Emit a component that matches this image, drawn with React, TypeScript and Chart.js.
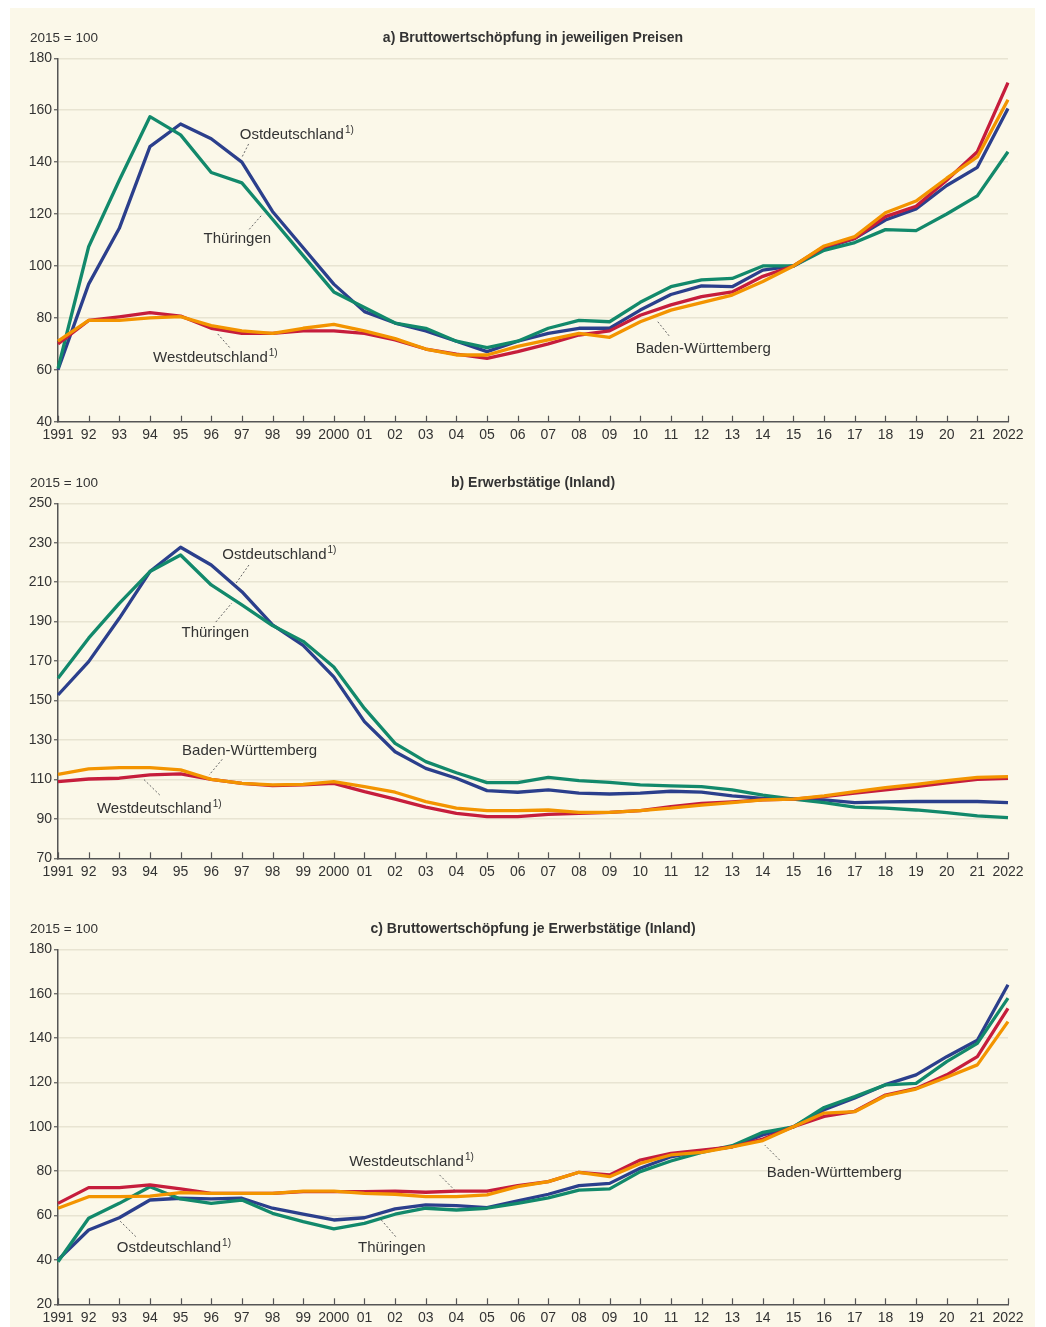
import React, { useEffect, useRef } from 'react';
import { Chart, registerables } from 'chart.js';

Chart.register(...registerables);

// ---------- data ----------
const years = ['1991', '92', '93', '94', '95', '96', '97', '98', '99', '2000', '01', '02', '03', '04', '05', '06', '07', '08', '09', '10', '11', '12', '13', '14', '15', '16', '17', '18', '19', '20', '21', '2022'];

// a) Bruttowertschöpfung in jeweiligen Preisen
const ostA = [60, 93, 114.5, 146, 154.7, 149, 140, 121, 107, 93, 82.4, 78, 75, 71, 67, 71, 74, 76, 76, 83, 89, 92.3, 92, 98.4, 100, 106.8, 110.6, 117.7, 122, 131, 138, 160.7];
const thuA = [60.5, 107.4, 133, 157.5, 150.5, 136, 132, 118, 104, 90, 84, 78, 76, 71, 68.5, 71, 76, 79, 78.5, 86, 92, 94.6, 95.2, 100, 100, 106, 109, 114, 113.6, 120, 127, 144];
const westA = [70, 79, 80.4, 82, 80.7, 76, 74, 74, 75, 75, 74, 71.5, 68, 66, 64.4, 67, 70, 73.4, 75, 81, 85, 88.2, 90, 96, 100, 107.4, 110.6, 119, 123, 133, 144, 170.6];
const bwA = [71, 79, 79, 80, 80.5, 77, 75, 74, 76, 77.5, 75, 72, 68, 65.7, 65.7, 69, 71.5, 74, 72.5, 78.5, 83, 85.9, 88.8, 94, 100, 107.7, 111.3, 120.5, 125, 133.8, 142, 164];

// b) Erwerbstätige (Inland)
const ostB = [152.8, 169.7, 191.7, 215.4, 227.7, 218.7, 205.2, 188.3, 178, 162, 139.3, 124, 115.6, 110.6, 104.3, 103.5, 104.7, 103, 102.6, 103, 104, 103.6, 101.7, 100.4, 100, 99.6, 98.2, 98.6, 98.8, 98.8, 98.8, 98.2];
const thuB = [161.3, 181.6, 199.3, 215.4, 223.8, 208.6, 198.5, 188, 180, 167, 146, 128.3, 119, 113.4, 108.4, 108.4, 111, 109.4, 108.5, 107.2, 106.7, 106.3, 104.7, 102, 100, 98.2, 95.9, 95.4, 94.5, 93.2, 91.5, 90.6];
const westB = [108.9, 110.2, 110.6, 112.3, 112.8, 110, 108, 106.9, 107.2, 108, 103.8, 100, 95.9, 92.8, 91.1, 91.1, 92.3, 92.8, 93.3, 94.2, 96.2, 97.9, 98.6, 99.6, 100, 101.3, 103, 104.7, 106.3, 108.3, 110, 110.6];
const bwB = [112.6, 115.3, 116, 116, 114.8, 110, 108, 107.2, 107.5, 108.9, 106.3, 103.5, 98.7, 95.4, 94.2, 94.2, 94.5, 93.3, 93.3, 94.2, 95.4, 97, 98.2, 99.6, 100, 101.7, 103.8, 105.8, 107.5, 109.4, 111, 111.4];

// c) Bruttowertschöpfung je Erwerbstätige (Inland)
const ostC = [40, 53.5, 59, 67, 67.8, 67.5, 67.8, 63.3, 60.6, 58, 59, 63, 64.8, 64.5, 63.6, 66.6, 69.6, 73.5, 74.5, 81.3, 86.5, 89, 91, 96.3, 100, 107.7, 113, 119, 123.4, 131.6, 139, 164];
const thuC = [39.2, 58.8, 65.5, 73, 67.5, 65.5, 67, 61, 57.3, 54, 56.5, 60.6, 63.3, 62.5, 63.3, 65.5, 68, 71.5, 72, 79.8, 84.6, 88.5, 91.5, 97.5, 100, 108.7, 113.6, 118.9, 119.6, 129.4, 137.6, 158];
const westC = [65.5, 72.6, 72.6, 73.8, 72, 70, 70, 70, 70.8, 70.8, 70.8, 71, 70.5, 71, 71, 73.5, 75.3, 79.5, 78.3, 85, 88, 89.5, 91, 94.5, 100, 104.7, 107, 114.3, 117.3, 123.4, 131.6, 153.4];
const bwC = [63.3, 68.5, 68.5, 68.8, 70.3, 70, 70, 70, 71, 71, 70, 69.6, 68.5, 68.5, 69.3, 73, 75.3, 79.5, 77.5, 83.5, 87.3, 88.5, 91, 93.8, 100, 106.2, 106.8, 114, 117, 122.3, 127.9, 147.4];

const titleA = 'a) Bruttowertschöpfung in jeweiligen Preisen';
const titleB = 'b) Erwerbstätige (Inland)';
const titleC = 'c) Bruttowertschöpfung je Erwerbstätige (Inland)';
const unitText = '2015 = 100';

// annotation labels (positions in data units: x = year index, y = value)
type Note = { text: string; sup?: string; x: number; y: number; line: number[] };
const notesA: Note[] = [
  { text: 'Ostdeutschland', sup: '1)', x: 5.93, y: 150.5, line: [6.22, 147, 5.99, 141.6] },
  { text: 'Thüringen', x: 4.75, y: 110.3, line: [6.24, 114.1, 6.67, 119.9] },
  { text: 'Westdeutschland', sup: '1)', x: 3.1, y: 64.6, line: [5.6, 68.6, 5.19, 74.1] },
  { text: 'Baden-Württemberg', x: 18.85, y: 68, line: [19.94, 73.1, 19.56, 78.7] },
];
const notesB: Note[] = [
  { text: 'Ostdeutschland', sup: '1)', x: 5.36, y: 223.8, line: [6.23, 218.7, 5.77, 208.6] },
  { text: 'Thüringen', x: 4.03, y: 184.1, line: [5.15, 189.8, 5.67, 199.4] },
  { text: 'Baden-Württemberg', x: 4.05, y: 124.4, line: [5.36, 120.2, 4.93, 112.2] },
  { text: 'Westdeutschland', sup: '1)', x: 1.27, y: 95, line: [3.32, 102.1, 2.8, 110] },
];
const notesC: Note[] = [
  { text: 'Ostdeutschland', sup: '1)', x: 1.92, y: 45.3, line: [2.54, 50.5, 1.99, 58] },
  { text: 'Westdeutschland', sup: '1)', x: 9.5, y: 84, line: [12.45, 78.3, 12.94, 71.5] },
  { text: 'Thüringen', x: 9.79, y: 45.3, line: [11.02, 50.5, 10.5, 58.8] },
  { text: 'Baden-Württemberg', x: 23.13, y: 79.3, line: [23.55, 85, 23.06, 91.8] },
];

// ---------- styles ----------
const FONT = '"Liberation Sans", Arial, sans-serif';
const C_OST = '#2b3f8c';
const C_THU = '#12896b';
const C_WEST = '#c61d3c';
const C_BW = '#f39400';
const AXIS = '#555555';
const GRID = '#e8e4d2';
const TEXT = '#333333';
const CREAM = '#fbf8e9';

type Series = { data: number[]; color: string };

function makePlugin(title: string, notes: Note[]) {
  return {
    id: 'decor',
    afterDraw(chart: any) {
      const ctx = chart.ctx as CanvasRenderingContext2D;
      const xs = chart.scales.x;
      const ys = chart.scales.y;
      const area = chart.chartArea;
      ctx.save();
      // x tick marks pointing up
      ctx.strokeStyle = AXIS;
      ctx.lineWidth = 1.2;
      for (let i = 0; i < years.length; i++) {
        const px = Math.round(xs.getPixelForValue(i)) + 0.5;
        ctx.beginPath();
        ctx.moveTo(px, area.bottom);
        ctx.lineTo(px, area.bottom - 6);
        ctx.stroke();
      }
      // header texts
      ctx.fillStyle = TEXT;
      ctx.textBaseline = 'middle';
      ctx.font = `13.5px ${FONT}`;
      ctx.textAlign = 'left';
      ctx.fillText(unitText, 30, area.top - 20);
      ctx.font = `bold 14px ${FONT}`;
      ctx.textAlign = 'center';
      ctx.fillText(title, (area.left + area.right) / 2, area.top - 20);
      // annotations
      ctx.textAlign = 'left';
      for (const n of notes) {
        const tx = xs.getPixelForValue(n.x);
        const ty = ys.getPixelForValue(n.y);
        ctx.font = `15px ${FONT}`;
        ctx.fillStyle = TEXT;
        ctx.fillText(n.text, tx, ty);
        if (n.sup) {
          const w = ctx.measureText(n.text).width;
          ctx.font = `10px ${FONT}`;
          ctx.fillText(n.sup, tx + w + 1, ty - 5);
        }
        ctx.setLineDash([2, 2]);
        ctx.strokeStyle = '#666666';
        ctx.lineWidth = 1;
        ctx.beginPath();
        ctx.moveTo(xs.getPixelForValue(n.line[0]), ys.getPixelForValue(n.line[1]));
        ctx.lineTo(xs.getPixelForValue(n.line[2]), ys.getPixelForValue(n.line[3]));
        ctx.stroke();
        ctx.setLineDash([]);
      }
      ctx.restore();
    },
  };
}

type PanelProps = {
  top: number;
  height: number;
  padTop: number;
  axisH: number;
  title: string;
  min: number;
  max: number;
  step: number;
  series: Series[];
  notes: Note[];
};

function Panel(p: PanelProps) {
  const ref = useRef<HTMLCanvasElement>(null);
  useEffect(() => {
    if (!ref.current) return;
    const chart = new Chart(ref.current, {
      type: 'line',
      data: {
        labels: years,
        datasets: p.series.map((s) => ({
          data: s.data,
          borderColor: s.color,
          backgroundColor: s.color,
          borderWidth: 3.3,
          pointRadius: 0,
          tension: 0,
          fill: false,
          borderJoinStyle: 'round' as const,
        })),
      },
      options: {
        animation: false,
        responsive: false,
        devicePixelRatio: 1,
        events: [],
        layout: { padding: { left: 0, right: 38, top: p.padTop, bottom: 0 } },
        plugins: { legend: { display: false }, tooltip: { enabled: false }, title: { display: false } },
        scales: {
          x: {
            type: 'category',
            offset: false,
            grid: { display: false, drawTicks: false },
            border: { display: true, color: AXIS, width: 1.5 },
            ticks: {
              autoSkip: false,
              maxRotation: 0,
              minRotation: 0,
              color: TEXT,
              font: { family: FONT, size: 14 },
              padding: 5,
            },
            afterFit: (s: any) => {
              s.height = p.axisH;
              s.paddingLeft = 0;
              s.paddingRight = 0;
            },
          },
          y: {
            min: p.min,
            max: p.max,
            ticks: { stepSize: p.step, color: TEXT, font: { family: FONT, size: 14 }, padding: 2 },
            grid: {
              color: (c: any) => (c.tick && c.tick.value === p.min ? 'rgba(0,0,0,0)' : GRID),
              lineWidth: 1.5,
              drawTicks: true,
              tickLength: 4,
              tickColor: AXIS,
              tickWidth: 1.2,
            },
            border: { display: true, color: AXIS, width: 1.5 },
            afterFit: (s: any) => {
              s.width = 58;
              s.paddingTop = 0;
              s.paddingBottom = 0;
            },
          },
        },
      },
      plugins: [makePlugin(p.title, p.notes)],
    } as any);
    return () => chart.destroy();
  }, []);
  return (
    <canvas
      ref={ref}
      width={1046}
      height={p.height}
      style={{ position: 'absolute', left: 0, top: p.top, width: 1046, height: p.height, display: 'block' }}
    />
  );
}

export default function App() {
  const seriesA: Series[] = [
    { data: bwA, color: C_BW },
    { data: westA, color: C_WEST },
    { data: thuA, color: C_THU },
    { data: ostA, color: C_OST },
  ];
  const seriesB: Series[] = [
    { data: bwB, color: C_BW },
    { data: westB, color: C_WEST },
    { data: thuB, color: C_THU },
    { data: ostB, color: C_OST },
  ];
  const seriesC: Series[] = [
    { data: bwC, color: C_BW },
    { data: westC, color: C_WEST },
    { data: thuC, color: C_THU },
    { data: ostC, color: C_OST },
  ];
  return (
    <div style={{ position: 'absolute', left: 0, top: 0, width: 1046, height: 1327, background: '#ffffff', overflow: 'hidden' }}>
      <div style={{ position: 'absolute', left: 10, top: 8, width: 1025, height: 1319, background: CREAM }} />
      <Panel top={10} height={442} padTop={48.3} axisH={30.3} title={titleA} min={40} max={180} step={20} series={seriesA} notes={notesA} />
      <Panel top={455} height={435} padTop={48.3} axisH={31.7} title={titleB} min={70} max={250} step={20} series={seriesB} notes={notesB} />
      <Panel top={900} height={427} padTop={49.3} axisH={22.7} title={titleC} min={20} max={180} step={20} series={seriesC} notes={notesC} />
    </div>
  );
}
